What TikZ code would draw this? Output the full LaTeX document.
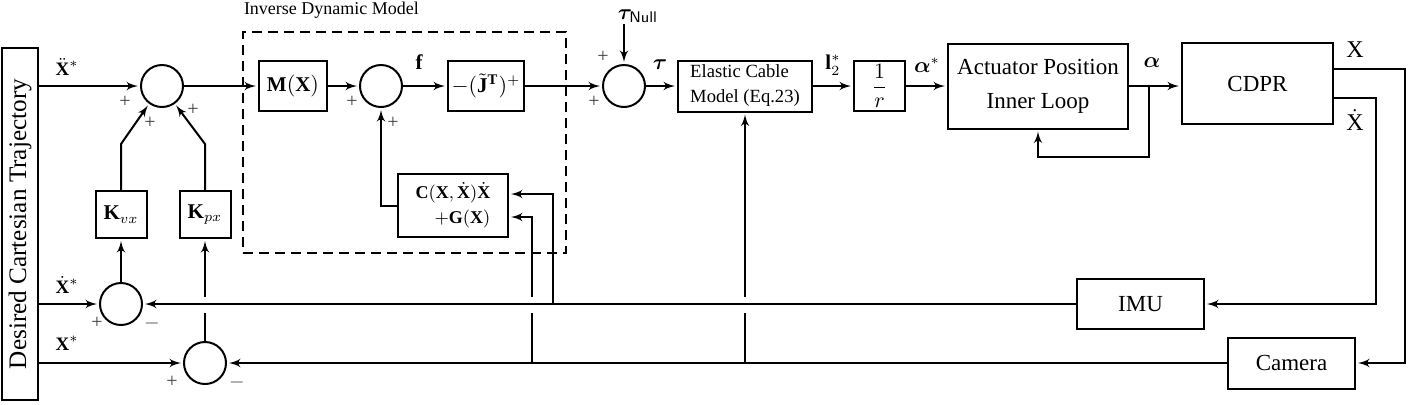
\documentclass[tikz,border=0pt]{standalone}
\usepackage{amsmath,bm}
\usepackage{fontspec}
\setmainfont{Liberation Serif}
\usetikzlibrary{arrows,calc}

\begin{document}
\begin{tikzpicture}[>=latex',shorten >=1pt,line width=1pt,x=0.5pt,y=-0.5pt,
                    block node/.style={rectangle,draw,inner sep=0pt,font=\fontsize{10.5}{12}\selectfont},
                    text node/.style={rectangle,draw,inner sep=0pt,font=\fontsize{11.5}{14}\selectfont},
                    sum node/.style={circle,draw,minimum size=21pt,inner sep=0pt},
                    sig node/.style={inner sep=0pt,text=black!75,font=\fontsize{10}{12}\selectfont},
                    lbl node/.style={inner sep=0pt,font=\fontsize{9.5}{11}\selectfont}]
  \useasboundingbox (0,0) rectangle (1410,404);
  % reference trajectory
  \node[draw,minimum width=18pt,minimum height=176pt,inner sep=0pt] (traj) at (20,224)
    {\rotatebox{90}{\fontsize{12.6}{14}\selectfont Desired Cartesian Trajectory}};
  % inverse dynamic model
  \node[draw,line width=0.8pt,dash pattern=on 5pt off 3pt,minimum width=161.5pt,minimum height=110.5pt] (idm) at (404.5,142.5) {};
  \node[anchor=west,inner sep=0pt,font=\fontsize{9}{11}\selectfont] (idmlbl) at (243,10) {Inverse Dynamic Model};
  \node[sum node] (sum1) at (162,86) {};
  \node[block node,minimum width=34pt,minimum height=25pt] (mx) at (293,86) {$\mathbf{M}(\mathbf{X})$};
  \node[sum node] (sum2) at (381,86) {};
  \node[block node,minimum width=38pt,minimum height=25pt] (jinv) at (486,86) {$-(\tilde{\mathbf{J}}^{\mathbf{T}})^{+}$};
  \node[block node,minimum width=55pt,minimum height=31.5pt,align=right,font=\fontsize{9}{12.5}\selectfont] (cg) at (453,205.5)
    {$\mathbf{C}(\mathbf{X},\dot{\mathbf{X}})\dot{\mathbf{X}}$\\$+\mathbf{G}(\mathbf{X})$};
  % cable and actuator chain
  \node[sum node] (sum3) at (624,86) {};
  \node[block node,minimum width=67pt,minimum height=25.5pt,align=left,font=\fontsize{9.3}{12.5}\selectfont] (ecm) at (745,86) {Elastic Cable\\Model (Eq.23)};
  \node[block node,minimum width=25.5pt,minimum height=25pt] (rinv) at (879.5,86) {$\dfrac{1}{r}$};
  \node[text node,minimum width=90pt,minimum height=42.5pt,align=center,font=\fontsize{11.5}{17}\selectfont] (act) at (1038,86) {Actuator Position\\Inner Loop};
  \node[text node,minimum width=75.5pt,minimum height=40.5pt] (cdpr) at (1257.5,83.5) {CDPR};
  \node[text node,minimum width=63.5pt,minimum height=25pt] (imu) at (1140.5,304) {IMU};
  \node[text node,minimum width=63.5pt,minimum height=25.5pt] (cam) at (1291.5,363) {Camera};
  % gains
  \node[block node,minimum width=25.5pt,minimum height=23.5pt] (kvx) at (121,214.5) {$\mathbf{K}_{vx}$};
  \node[block node,minimum width=25.5pt,minimum height=23.5pt] (kpx) at (205,214.5) {$\mathbf{K}_{px}$};
  \node[sum node] (sumv) at (121,304) {};
  \node[sum node] (sump) at (205,363) {};
  % signal labels
  \node[lbl node] (ddxs) at (67,67) {$\ddot{\mathbf{X}}^{*}$};
  \node[lbl node] (dxs) at (67,285) {$\dot{\mathbf{X}}^{*}$};
  \node[lbl node] (xs) at (67,343) {$\mathbf{X}^{*}$};
  \node[lbl node,font=\fontsize{10.5}{12}\selectfont] (flbl) at (419,62) {$\mathbf{f}$};
  \node[lbl node,font=\fontsize{11}{13}\selectfont] (tnull) at (638,16) {$\bm{\tau}_{\textsf{Null}}$};
  \node[lbl node,font=\fontsize{11}{13}\selectfont] (taulbl) at (660,65) {$\bm{\tau}$};
  \node[lbl node,font=\fontsize{10.5}{12}\selectfont] (l2lbl) at (833,65) {$\mathbf{l}_2^{*}$};
  \node[lbl node,font=\fontsize{10.5}{12}\selectfont] (aslbl) at (927,65) {$\bm{\alpha}^{*}$};
  \node[lbl node,font=\fontsize{10.5}{12}\selectfont] (albl) at (1152,63) {$\bm{\alpha}$};
  \node[lbl node,font=\fontsize{12}{14}\selectfont] (xlbl) at (1355,50) {$\mathrm{X}$};
  \node[lbl node,font=\fontsize{12}{14}\selectfont] (dxlbl) at (1355,120) {$\dot{\mathrm{X}}$};
  % signs
  \node[sig node] (s1a) at (125,102) {+};
  \node[sig node] (s1b) at (150,123) {+};
  \node[sig node] (s1c) at (193,110) {+};
  \node[sig node] (s2a) at (352,102) {+};
  \node[sig node] (s2b) at (393,123) {+};
  \node[sig node] (s3a) at (603,57) {+};
  \node[sig node] (s3b) at (594,102) {+};
  \node[sig node] (svp) at (97,323) {+};
  \node[sig node] (svm) at (152,323) {$-$};
  \node[sig node] (spp) at (172,382) {+};
  \node[sig node] (spm) at (237,382) {$-$};
  % branch points
  \coordinate (afb) at (1149,86);
  \coordinate (bv1) at (553,304);
  \coordinate (bx1) at (532,363);
  \coordinate (bx2) at (ecm.south |- cam);
  % forward path
  \draw[->] (traj.east |- sum1) -- (sum1.west);
  \draw[->] (traj.east |- sumv) -- (sumv.west);
  \draw[->] (traj.east |- sump) -- (sump.west);
  \draw[->] (sum1) -- (mx);
  \draw[->] (mx) -- (sum2);
  \draw[->] (sum2) -- (jinv);
  \draw[->] (jinv) -- (sum3);
  \draw[->] (tnull.south -| sum3.north) -- (sum3.north);
  \draw[->] (sum3) -- (ecm);
  \draw[->] (ecm) -- (rinv);
  \draw[->] (rinv) -- (act);
  \draw[->] (act.east) -- (act.east -| cdpr.west);
  \draw[->] (afb) -- ++(0,71) -| (act.south);
  \draw[->] (cg.west) -| (sum2.south);
  \draw[->] (sumv) -- (kvx);
  \draw[->] (kvx.north) -- ++(0,-46) -- (sum1.234);
  \draw[->] (kpx.north) -- ++(0,-46) -- (sum1.306);
  % feedback
  \draw[->] ([yshift=7.25pt]cdpr.east) -- ++(71,0) |- (cam);
  \draw[->] ([yshift=-7.25pt]cdpr.east) -- ++(42,0) |- (imu);
  \draw[->] (imu) -- (sumv);
  \draw[->] (cam) -- (sump);
  \draw (sump.north) -- ($(sump.north |- imu)+(0,7)$);
  \draw[->] ($(sump.north |- imu)+(0,-7)$) -- (kpx.south);
  \draw[->] (bv1) |- ($(cg.east)+(0,-11.5)$);
  \draw (bx1) -- ($(bx1 |- imu)+(0,7)$);
  \draw[->] ($(bx1 |- imu)+(0,-7)$) |- ($(cg.east)+(0,11.5)$);
  \draw (bx2) -- ($(bx2 |- imu)+(0,7)$);
  \draw[->] ($(bx2 |- imu)+(0,-7)$) -- (ecm.south);
\end{tikzpicture}
\end{document}
